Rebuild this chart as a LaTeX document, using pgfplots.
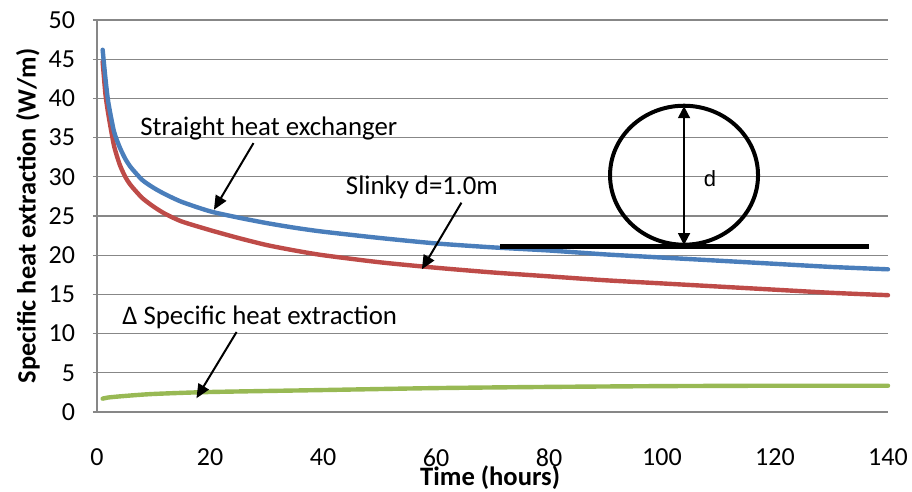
\documentclass[border=0pt]{standalone}
\usepackage{pgfplots}
\pgfplotsset{compat=1.18}
\usepackage{fontspec}
\setmainfont{Carlito}
\newfontfamily\arialfont{Liberation Sans}
\usetikzlibrary{arrows.meta}
\definecolor{cblue}{HTML}{4A7EBB}
\definecolor{cred}{HTML}{BE4B48}
\definecolor{cgreen}{HTML}{98B954}
\definecolor{cgrid}{HTML}{878787}
\begin{document}
\begin{tikzpicture}
\path[use as bounding box] (-48.5pt,-40pt) rectangle (407.5pt,206pt);
\begin{axis}[
  scale only axis,
  width=395.5pt, height=196pt,
  xmin=0, xmax=140, ymin=0, ymax=50,
  xtick={0,20,...,140}, ytick={0,5,...,50},
  axis x line=bottom, axis y line=left,
  axis line style={draw=cgrid, line width=0.6pt, -},
  ymajorgrids, major grid style={draw=cgrid, line width=0.6pt},
  x tick style={draw=none},
  y tick style={draw=cgrid, line width=0.6pt},
  tick align=outside, major tick length=2pt,
  /pgf/number format/assume math mode=true,
  tick label style={font=\fontsize{13}{15}\selectfont},
  xticklabel style={yshift=-13pt},
  yticklabel style={xshift=-5.5pt},
  xlabel={\textbf{Time (hours)}},
  ylabel={\textbf{Specific heat extraction (W/m)}},
  xlabel style={font=\fontsize{13.3}{15}\selectfont, at={(axis description cs:0.497,0)}, anchor=center, yshift=-33pt},
  ylabel style={font=\fontsize{13.2}{15}\selectfont, at={(axis description cs:-0.0872,0.5)}, anchor=center},
  clip=false,
  every axis plot/.append style={line width=2.2pt, line cap=round, line join=round, smooth, tension=0.4},
]
\addplot[cgreen] coordinates {(1,1.7) (2,1.85) (5,2.05) (10,2.3) (20,2.55) (40,2.8) (60,3.05) (80,3.2) (100,3.3) (120,3.35) (140,3.35)};
\addplot[cred] coordinates {(1,44.7) (1.5,40.5) (2,38) (3,34) (4,31.6) (5,30) (6,28.9) (8,27.3) (10,26.2) (12,25.3) (15,24.3) (20,23.2) (25,22.2) (30,21.3) (35,20.6) (40,20.0) (50,19.1) (60,18.4) (70,17.8) (80,17.3) (90,16.8) (100,16.4) (110,16.0) (120,15.6) (130,15.2) (140,14.9)};
\addplot[cblue] coordinates {(1,46.2) (1.5,42.5) (2,39.5) (3,35.8) (4,33.8) (5,32.3) (6,31.2) (8,29.6) (10,28.6) (12,27.8) (15,26.8) (20,25.6) (25,24.8) (30,24.1) (35,23.5) (40,23.0) (50,22.2) (60,21.5) (70,21.0) (80,20.6) (90,20.1) (100,19.7) (110,19.3) (120,18.9) (130,18.5) (140,18.2)};
% diagram
\draw[black, line width=2.2pt] (axis cs:71.3,21.1) -- (axis cs:136.6,21.1);
\draw[black, line width=2pt] (axis cs:103.9,30.2) ellipse [x radius=37pt, y radius=34.75pt];
\draw[black, line width=1pt, {Triangle[length=6pt,width=6pt]}-{Triangle[length=6pt,width=6pt]}] (axis cs:103.9,39.0) -- (axis cs:103.9,21.3);
\node[font=\arialfont\fontsize{11}{12}\selectfont] at (axis cs:108.5,29.8) {d};
% annotations
\node[font=\fontsize{13.4}{15}\selectfont] at (axis cs:30.4,36.2) {Straight heat exchanger};
\draw[black, line width=1pt, -{Triangle[length=7pt,width=6pt]}] (axis cs:27.7,34.3) -- (axis cs:20.7,25.8);
\node[font=\fontsize{13.4}{15}\selectfont] at (axis cs:57.5,28.6) {Slinky d=1.0m};
\draw[black, line width=1pt, -{Triangle[length=7pt,width=6pt]}] (axis cs:64.5,26.7) -- (axis cs:57.5,18.2);
\node[font=\fontsize{13.4}{15}\selectfont] at (axis cs:28.8,12.1) {Δ Specific heat extraction};
\draw[black, line width=1pt, -{Triangle[length=7pt,width=6pt]}] (axis cs:24.7,10.2) -- (axis cs:17.6,1.75);
\end{axis}
\end{tikzpicture}
\end{document}
